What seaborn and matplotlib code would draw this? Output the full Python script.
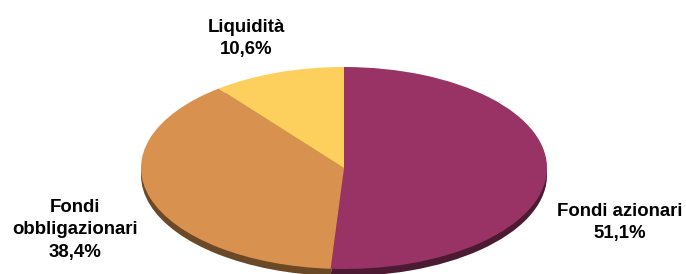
import matplotlib
matplotlib.use("Agg")
import matplotlib.pyplot as plt
import seaborn as sns

# Dati
categorie = ["Fondi azionari", "Fondi obbligazionari", "Liquidità"]
valori = [51.1, 38.4, 10.6]
etichette = [["Fondi azionari", "51,1%"],
             ["Fondi", "obbligazionari", "38,4%"],
             ["Liquidità", "10,6%"]]
colori = ["#993366", "#D8914F", "#FDD05E"]
colori_lato = ["#4D1A33", "#6B4826", "#8A7030"]

sns.set_theme(style="white")
plt.rcParams['font.family'] = ['Liberation Sans', 'DejaVu Sans']

fig = plt.figure(figsize=(6.86, 2.74), dpi=100)
ax = fig.add_axes([0, 0, 1, 1])

# spessore (effetto 3D)
ax.pie(valori, colors=colori_lato, startangle=90, counterclock=False,
       center=(0, -0.07), wedgeprops=dict(linewidth=0))
ax.pie(valori, colors=colori, startangle=90, counterclock=False,
       center=(0, 0), wedgeprops=dict(linewidth=0))

# ellisse: centro (344,168) px, semiassi 203 x 101 px
ax.set_aspect('auto')
ax.set_xlim(-344 / 203, (686 - 344) / 203)
ax.set_ylim(-(274 - 168) / 101, 168 / 101)
ax.axis('off')

# etichette: centro x e linee di base (pixel)
pos = [(620, [216, 238]), (75, [212, 234.5, 257]), (246, [32, 54])]
for (px, righe_y), righe in zip(pos, etichette):
    for py, riga in zip(righe_y, righe):
        fig.text(px / 686, 1 - py / 274, riga, ha='center', va='baseline',
                 fontsize=13.4, fontweight='bold', color='black')

fig.savefig("out.png", dpi=100)
